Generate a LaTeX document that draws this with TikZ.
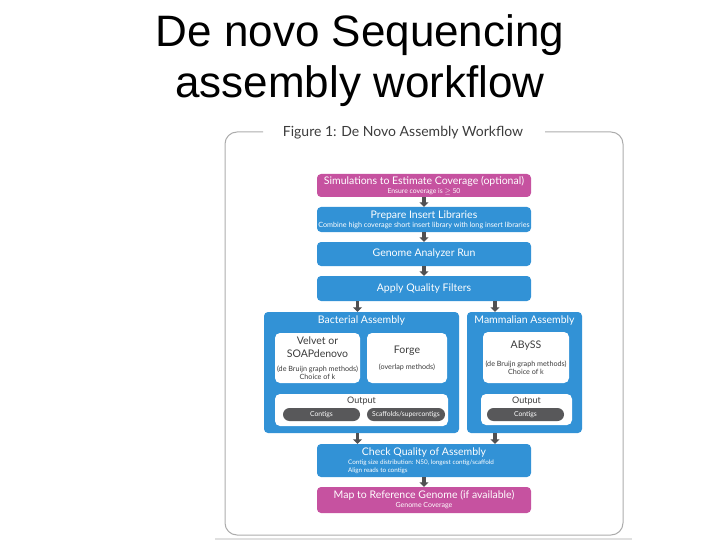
\documentclass[tikz,border=0pt]{standalone}
\usepackage{fontspec}
\setmainfont{Lato}
\newfontfamily\slidefont{Liberation Sans}
\usetikzlibrary{positioning, calc, arrows.meta}

\definecolor{wfMagenta}{RGB}{198,82,160}
\definecolor{wfBlue}{RGB}{50,146,214}
\definecolor{pillGray}{RGB}{88,88,90}
\definecolor{arrowGray}{RGB}{80,80,82}
\definecolor{frameGray}{RGB}{172,172,172}
\definecolor{textGray}{RGB}{60,60,60}

\newcommand{\boxtitlefont}{\fontsize{10.5}{12}\selectfont}
\newcommand{\boxnotefont}{\fontsize{7}{8}\selectfont}
\newcommand{\panelfont}{\fontsize{10.5}{13}\selectfont}

\tikzset{
  stepbox/.style={rounded corners=4pt, inner sep=0pt, text=white, align=center, font=\boxtitlefont},
  bluestep/.style={stepbox, fill=wfBlue},
  pinkstep/.style={stepbox, fill=wfMagenta},
  panel/.style={fill=white, rounded corners=5pt, inner sep=0pt, text=textGray, align=center, font=\panelfont},
  pill/.style={fill=pillGray, rounded corners=6.5pt, inner sep=0pt, text=white,
               font=\fontsize{6.8}{8}\selectfont, minimum width=77pt, minimum height=13pt},
  flow/.style={draw=arrowGray, line width=3.5pt, -{Triangle[width=9pt,length=4.5pt]}},
}

\begin{document}
\begin{tikzpicture}[x=1pt, y=-1pt]
    \useasboundingbox (0,0) rectangle (720,540);

    % Slide heading
    \node[font=\slidefont\fontsize{44}{50}\selectfont, anchor=base] (head1) at (360,47) {De novo Sequencing};
    \node[font=\slidefont\fontsize{44}{50}\selectfont, anchor=base] (head2) at (360,98) {assembly workflow};

    % Figure frame with a gap for its caption
    \draw[frameGray, line width=1pt, rounded corners=12pt]
        (263,132) -- (225,132) -- (225,535) -- (623,535) -- (623,132) -- (545,132);
    \node[text=textGray, font=\fontsize{14}{16}\selectfont] (figtitle) at (403,133) {Figure 1: De Novo Assembly Workflow};

    % Main column of steps
    \node[pinkstep, minimum width=214pt, minimum height=23pt] (sim) at (424,185.5)
        {Simulations to Estimate Coverage (optional)\\[-3pt]{\fontsize{6.8}{8}\selectfont Ensure coverage is $\geq$ 50}};
    \node[bluestep, minimum width=214pt, minimum height=25pt] (prep) at (424,219.5)
        {Prepare Insert Libraries\\[-3pt]{\fontsize{7.2}{8}\selectfont Combine high coverage short insert library with long insert libraries}};
    \node[bluestep, minimum width=214pt, minimum height=24pt] (run) at (424,254) {Genome Analyzer Run};
    \node[bluestep, minimum width=214pt, minimum height=25pt] (filters) at (424,288.5) {Apply Quality Filters};

    \draw[flow] (sim) -- (prep);
    \draw[flow] (prep) -- (run);
    \draw[flow] (run) -- (filters);

    % Bacterial assembly panel
    \node[bluestep, minimum width=195pt, minimum height=121pt] (bact) at (361.5,372.5) {};
    \node[text=white, font=\boxtitlefont] (bacthead) at (361.5,321) {Bacterial Assembly};
    \node[panel, minimum width=85pt, minimum height=50pt] (velvet) at (317.5,358)
        {Velvet or\\SOAPdenovo\\[1pt]{\fontsize{7.2}{8}\selectfont (de Bruijn graph methods)}\\[-5pt]{\fontsize{7.2}{8}\selectfont Choice of k}};
    \node[panel, minimum width=80pt, minimum height=50pt] (forge) at (407,358)
        {Forge\\[3pt]{\fontsize{7.2}{8}\selectfont (overlap methods)}};
    \node[panel, minimum width=173pt, minimum height=32pt] (bactout) at (361.5,410) {};
    \node[text=textGray, font=\fontsize{9}{10}\selectfont] (bactouthead) at (361.5,401.5) {Output};
    \node[pill] (bcontig) at (321.5,414.5) {Contigs};
    \node[pill, minimum width=78pt] (bscaffold) at (406,414.5) {Scaffolds/supercontigs};

    % Mammalian assembly panel
    \node[bluestep, minimum width=115pt, minimum height=121pt] (mamm) at (524.5,372.5) {};
    \node[text=white, font=\boxtitlefont] (mammhead) at (524.5,321) {Mammalian Assembly};
    \node[panel, minimum width=86pt, minimum height=51pt] (abyss) at (526,357.5)
        {ABySS\\[5pt]{\fontsize{7.2}{8}\selectfont (de Bruijn graph methods)}\\[-5pt]{\fontsize{7.2}{8}\selectfont Choice of k}};
    \node[panel, minimum width=91pt, minimum height=31pt] (mammout) at (526.5,409.5) {};
    \node[text=textGray, font=\fontsize{9}{10}\selectfont] (mammouthead) at (526.5,401.5) {Output};
    \node[pill] (mcontig) at (525.5,414.5) {Contigs};

    % Arrow columns into and out of the assemblies
    \coordinate (colL) at (357.5,0);
    \coordinate (colR) at (495,0);
    \draw[flow] (filters.south -| colL) -- (bact.north -| colL);
    \draw[flow] (filters.south -| colR) -- (mamm.north -| colR);

    % Final checks
    \node[bluestep, minimum width=214pt, minimum height=33pt] (check) at (424,460.5) {};
    \node[text=white, font=\boxtitlefont] (checkhead) at (424,453) {Check Quality of Assembly};
    \node[text=white, font=\fontsize{6.3}{7.5}\selectfont, align=left, inner sep=0pt] (checknote) at (421,467)
        {Contig size distribution: N50, longest contig/scaffold\\Align reads to contigs};
    \node[pinkstep, minimum width=214pt, minimum height=26pt] (map) at (424,500)
        {Map to Reference Genome (if available)\\[-3pt]{\boxnotefont Genome Coverage}};

    \draw[flow] (bact.south -| colL) -- (check.north -| colL);
    \draw[flow] (mamm.south -| colR) -- (check.north -| colR);
    \draw[flow] (check) -- (map);

    % Slide edge below the figure
    \draw[black!12, line width=2pt] (215,538.5) -- (632,538.5);

\end{tikzpicture}
\end{document}
